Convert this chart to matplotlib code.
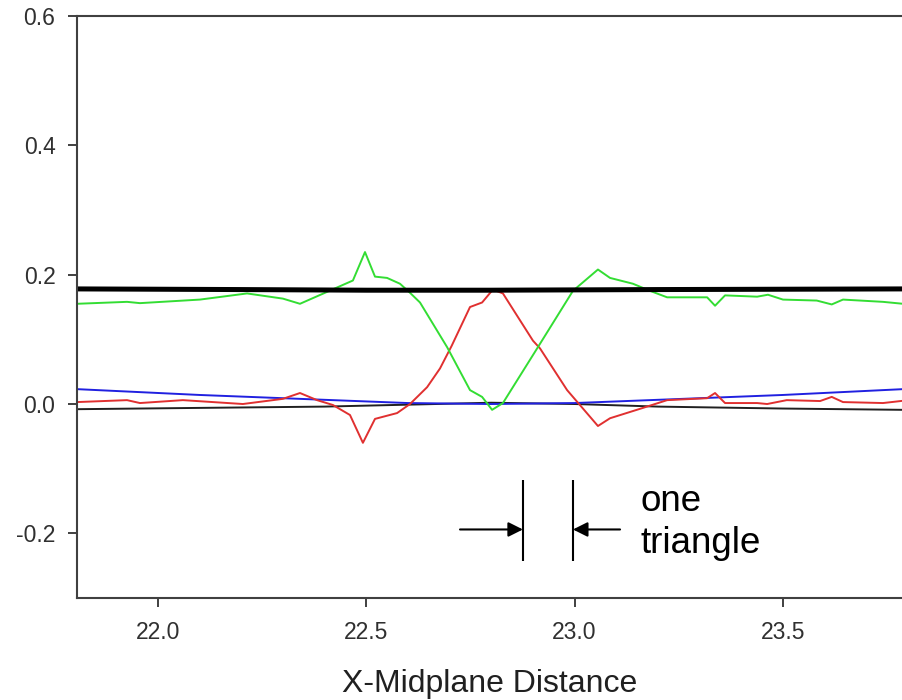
import matplotlib
matplotlib.use("Agg")
import matplotlib.pyplot as plt

plt.rcParams["font.family"] = ["Liberation Sans", "DejaVu Sans"]

# profile across the midplane, sampled by hand along each trace
green_x = [21.806, 21.926, 21.957, 22.101, 22.214, 22.300, 22.341, 22.468, 22.497,
           22.521, 22.550, 22.581, 22.605, 22.629, 22.694, 22.749, 22.778, 22.802,
           22.828, 22.912, 22.996, 23.056, 23.085, 23.140, 23.181, 23.222, 23.260,
           23.318, 23.337, 23.361, 23.438, 23.464, 23.500, 23.581, 23.617, 23.644,
           23.740, 23.788]
green_y = [0.155, 0.158, 0.156, 0.1615, 0.171, 0.163, 0.155, 0.191, 0.235,
           0.197, 0.195, 0.186, 0.172, 0.157, 0.088, 0.0215, 0.011, -0.009,
           0.0015, 0.088, 0.175, 0.208, 0.195, 0.186, 0.175, 0.165, 0.165,
           0.165, 0.152, 0.168, 0.166, 0.169, 0.1615, 0.160, 0.154, 0.1615,
           0.158, 0.155]

red_x = [21.806, 21.926, 21.957, 22.060, 22.204, 22.300, 22.341, 22.382, 22.420,
         22.461, 22.492, 22.521, 22.574, 22.605, 22.646, 22.677, 22.705, 22.749,
         22.778, 22.804, 22.828, 22.900, 22.917, 22.982, 23.056, 23.085, 23.164,
         23.222, 23.318, 23.337, 23.361, 23.438, 23.462, 23.509, 23.589, 23.617,
         23.644, 23.740, 23.788]
red_y = [0.003, 0.006, 0.0015, 0.006, 0.0, 0.008, 0.017, 0.006, -0.0015,
         -0.017, -0.06, -0.023, -0.014, 0.0, 0.026, 0.055, 0.09, 0.150,
         0.157, 0.177, 0.171, 0.098, 0.086, 0.0215, -0.034, -0.022, -0.006,
         0.006, 0.009, 0.017, 0.0015, 0.0015, 0.0, 0.006, 0.0046, 0.011,
         0.003, 0.0015, 0.005]

blue_x = [21.806, 22.100, 22.600, 22.800, 23.000, 23.500, 23.788]
blue_y = [0.023, 0.014, 0.0015, 0.0, 0.0015, 0.014, 0.023]

base_x = [21.806, 22.100, 22.400, 22.600, 22.800, 23.000, 23.200, 23.500, 23.788]
base_y = [-0.008, -0.006, -0.004, -0.001, 0.002, 0.000, -0.004, -0.007, -0.009]

level_x = [21.806, 22.200, 22.500, 22.800, 23.200, 23.788]
level_y = [0.178, 0.177, 0.176, 0.176, 0.177, 0.178]

xticks = [22.0, 22.5, 23.0, 23.5]
yticks = [-0.2, 0.0, 0.2, 0.4, 0.6]

fig = plt.figure(figsize=(9.03, 7.0), dpi=100)
ax = fig.add_axes([0.0853, 0.1457, 0.9147, 0.8314])

ax.plot(base_x, base_y, color="#202020", lw=1.4)
ax.plot(blue_x, blue_y, color="#2020e0", lw=1.4)
ax.plot(red_x, red_y, color="#e03030", lw=1.4)
ax.plot(green_x, green_y, color="#33dd33", lw=1.4)
ax.plot(level_x, level_y, color="black", lw=3.6)

# width marker for a single triangle
x_left, x_right = 22.876, 22.996
ax.vlines([x_left, x_right], -0.243, -0.118, color="black", lw=1.5)
arrow = dict(arrowstyle="-|>", color="black", lw=1.5, mutation_scale=22,
             shrinkA=0, shrinkB=0)
ax.annotate("", xy=(x_left, -0.194), xytext=(22.725, -0.194), arrowprops=arrow)
ax.annotate("", xy=(x_right, -0.194), xytext=(23.109, -0.194), arrowprops=arrow)
ax.text(23.157, -0.166, "one", fontsize=26.5, va="baseline", ha="left")
ax.text(23.157, -0.2308, "triangle", fontsize=26.5, va="baseline", ha="left")

ax.set_xlim(21.806, 23.788)
ax.set_ylim(-0.3, 0.6)
ax.set_xticks(xticks)
ax.set_xticklabels([f"{t:.1f}" for t in xticks])
ax.set_yticks(yticks)
ax.set_yticklabels([f"{t:.1f}" for t in yticks])
ax.tick_params(axis="both", labelsize=16.5, colors="#404040", labelcolor="#303030",
               width=1.4, length=6.5)
ax.tick_params(axis="y", pad=9)
ax.tick_params(axis="x", pad=10)
ax.set_xlabel("X-Midplane Distance", fontsize=23, color="#202020", labelpad=18)

for side in ("left", "bottom", "top"):
    ax.spines[side].set_color("#404040")
    ax.spines[side].set_linewidth(1.5)
ax.spines["right"].set_visible(False)

fig.savefig("out.png", dpi=100)
